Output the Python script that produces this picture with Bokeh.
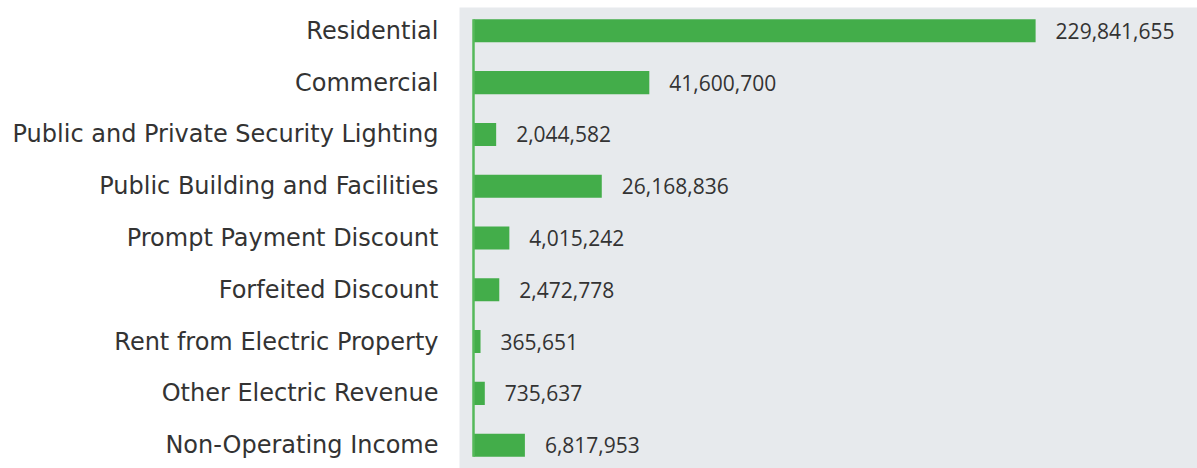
from bokeh.plotting import figure
from bokeh.models import ColumnDataSource, FactorRange, Range1d, CustomJSTransform
from bokeh.transform import transform
from bokeh.core.properties import value
from bokeh.embed import file_html
from bokeh.resources import INLINE

categories = [
    "Residential",
    "Commercial",
    "Public and Private Security Lighting",
    "Public Building and Facilities",
    "Prompt Payment Discount",
    "Forfeited Discount",
    "Rent from Electric Property",
    "Other Electric Revenue",
    "Non-Operating Income",
]
amounts = [229841655, 41600700, 2044582, 26168836, 4015242, 2472778, 365651, 735637, 6817953]
labels = [f"{v:,}" for v in amounts]

EXP = 0.68  # bar length scale observed in the reference (power scale)
power = CustomJSTransform(
    func=f"return Math.pow(x, {EXP});",
    v_func=f"const out = new Float64Array(xs.length); for (let i = 0; i < xs.length; i++) out[i] = Math.pow(xs[i], {EXP}); return out;",
)

src = ColumnDataSource(dict(cat=categories, amount=amounts, label=labels))

xmax = max(amounts) ** EXP
p = figure(
    width=1197, height=468,
    y_range=FactorRange(factors=categories[::-1], range_padding=-0.05, range_padding_units="absolute"),
    x_range=Range1d(-0.0249 * xmax, 1.288 * xmax),
    output_backend="svg", toolbar_location=None,
    min_border_left=459, min_border_right=0, min_border_top=7, min_border_bottom=0,
)
p.background_fill_color = "#e7eaed"
p.border_fill_color = "white"
p.outline_line_color = None
p.grid.visible = False
p.xaxis.visible = False

GREEN = "#43ad4a"
p.hbar(y="cat", left=0, right=transform("amount", power), height=0.445,
       fill_color=GREEN, line_color=None, source=src)

p.segment(x0=[0], x1=[0], y0=[(categories[0], 0.2225)], y1=[(categories[-1], -0.2225)],
          line_color="#55b95a", line_width=2.5)

p.text(x=transform("amount", power), y="cat", text="label", source=src,
       x_offset=20, text_baseline="middle", text_align="left",
       text_font=value("Open Sans"), text_font_size="21px", text_color="#333333")

ya = p.yaxis[0]
ya.axis_line_color = None
ya.major_tick_line_color = None
ya.minor_tick_line_color = None
ya.major_tick_out = 0
ya.major_tick_in = 0
ya.major_label_standoff = 21
ya.major_label_text_font = "DejaVu Sans"
ya.major_label_text_font_size = "24px"
ya.major_label_text_color = "#333333"

open("out.html", "w").write(file_html(p, INLINE))
